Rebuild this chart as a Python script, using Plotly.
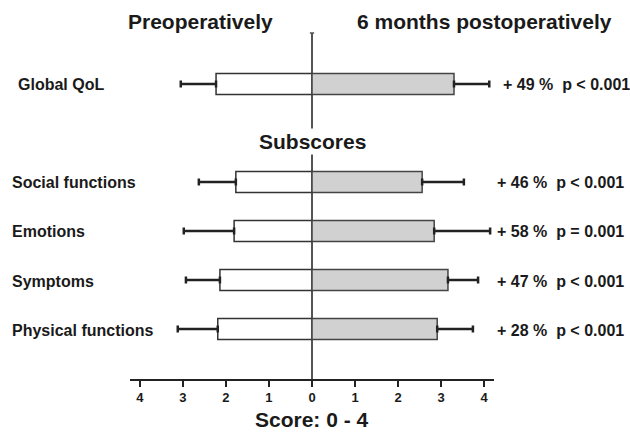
import plotly.graph_objects as go

# ---- data ----
categories = ["Physical functions", "Symptoms", "Emotions", "Social functions", "Subscores", "Global QoL"]
bar_categories = ["Physical functions", "Symptoms", "Emotions", "Social functions", "Global QoL"]
pre_mean = [2.19, 2.14, 1.81, 1.77, 2.23]
pre_sd = [0.93, 0.79, 1.17, 0.86, 0.82]
post_mean = [2.91, 3.16, 2.84, 2.56, 3.30]
post_sd = [0.83, 0.70, 1.30, 0.97, 0.82]
change_text = ["+ 28 %  p < 0.001", "+ 47 %  p < 0.001", "+ 58 %  p = 0.001",
               "+ 46 %  p < 0.001", "+ 49 %  p < 0.001"]
tick_vals = [-4, -3, -2, -1, 0, 1, 2, 3, 4]
tick_text = ["4", "3", "2", "1", "0", "1", "2", "3", "4"]

FONT = "Liberation Sans, Arial, sans-serif"

fig = go.Figure()
fig.add_trace(go.Bar(
    y=bar_categories, x=[-v for v in pre_mean], orientation="h", width=0.43,
    marker=dict(color="white", line=dict(color="#333333", width=1.5)),
    error_x=dict(type="data", symmetric=False, array=[0] * len(pre_sd), arrayminus=pre_sd,
                 color="#222222", thickness=2.5, width=3.5),
    showlegend=False, hoverinfo="skip"))
fig.add_trace(go.Bar(
    y=bar_categories, x=post_mean, orientation="h", width=0.43,
    marker=dict(color="#d0d1d0", line=dict(color="#444444", width=1.5)),
    error_x=dict(type="data", symmetric=False, array=post_sd, arrayminus=[0] * len(post_sd),
                 color="#222222", thickness=2.5, width=3.5),
    showlegend=False, hoverinfo="skip"))

annotations = []
for cat in bar_categories:
    annotations.append(dict(
        x=-0.33 if cat != "Global QoL" else -0.313, xref="paper", xanchor="left",
        y=cat, yref="y", yshift=-1, text="<b>%s</b>" % cat, showarrow=False,
        font=dict(family=FONT, size=16, color="#1a1a1a")))
for cat, t in zip(bar_categories, change_text):
    annotations.append(dict(
        x=1.003 if cat != "Global QoL" else 1.019, xref="paper", xanchor="left",
        y=cat, yref="y", yshift=-1, text="<b>%s</b>" % t.replace(" ", "\u00a0"), showarrow=False,
        font=dict(family=FONT, size=16, color="#1a1a1a")))
annotations.append(dict(x=0.015, xref="x", xanchor="center", y="Subscores", yref="y", yshift=-9,
                        text="<b>Subscores</b>", showarrow=False, bgcolor="white",
                        font=dict(family=FONT, size=21, color="#1a1a1a")))
annotations.append(dict(x=0.195, xref="paper", xanchor="center", y=1.032, yref="paper",
                        yanchor="middle", text="<b>Preoperatively</b>", showarrow=False,
                        font=dict(family=FONT, size=21, color="#1a1a1a")))
annotations.append(dict(x=0.974, xref="paper", xanchor="center", y=1.032, yref="paper",
                        yanchor="middle", text="<b>6 months postoperatively</b>", showarrow=False,
                        font=dict(family=FONT, size=21, color="#1a1a1a")))
annotations.append(dict(x=0, xref="x", xanchor="center", y=-0.117, yref="paper", yanchor="middle",
                        text="<b>Score: 0 - 4</b>", showarrow=False,
                        font=dict(family=FONT, size=21, color="#1a1a1a")))

fig.update_layout(
    width=630, height=433,
    margin=dict(l=130, r=136, t=33, b=54),
    paper_bgcolor="white", plot_bgcolor="white",
    barmode="overlay",
    annotations=annotations,
    shapes=[dict(type="line", xref="x", yref="paper", x0=-0.05, x1=0.05, y0=1, y1=1,
                 line=dict(color="#555555", width=1.5))],
    xaxis=dict(range=[-4.23, 4.23], tickvals=tick_vals, ticktext=["<b>%s</b>" % t for t in tick_text],
               showline=True, linecolor="#222222", linewidth=1.5,
               ticks="outside", ticklen=6, tickwidth=1.5, tickcolor="#222222",
               tickfont=dict(family=FONT, size=13, color="#1a1a1a"),
               showgrid=False, zeroline=True, zerolinecolor="#555555", zerolinewidth=1.5),
    yaxis=dict(categoryorder="array", categoryarray=categories, range=[-1.02, 6.04],
               showticklabels=False, showgrid=False, zeroline=False, showline=False, ticks=""),
)

fig.write_html("out.html")
